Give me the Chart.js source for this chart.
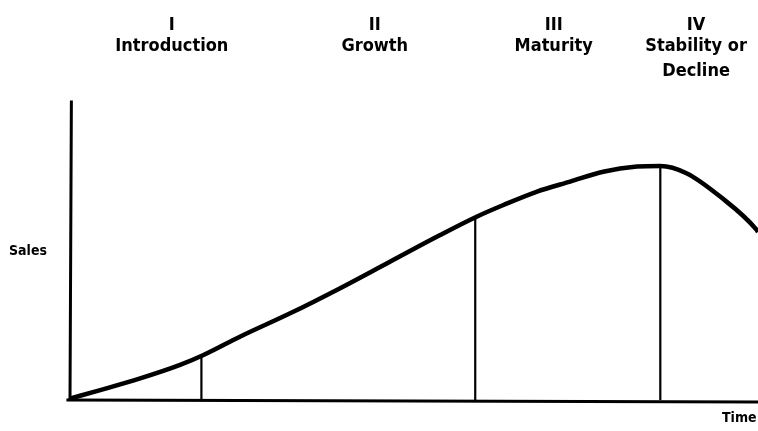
<!DOCTYPE html>
<html><head><meta charset="utf-8">
<script src="https://cdn.jsdelivr.net/npm/chart.js@4/dist/chart.umd.min.js"></script>
<style>html,body{margin:0;padding:0;background:#fff;}#wrap{width:758px;height:431px;}</style>
</head><body><div id="wrap"><canvas id="c" width="758" height="431"></canvas></div>
<script>
// Curve (time, sales)
const timeValues  = [0, 4.4, 10.2, 16.0, 19.4, 24.7, 32.0, 39.2, 46.5, 53.8, 59.1, 63.0, 67.8, 72.7, 77.5, 82.4, 85.8, 89.6, 94.5, 99.8, 100];
const salesValues = [0.5, 3.3, 7.2, 11.7, 15.0, 21.1, 28.9, 37.2, 46.1, 55.0, 61.1, 65.0, 69.4, 72.8, 76.1, 77.8, 78.0, 75.6, 67.8, 56.7, 56.0];
// Stage boundaries (time) and curve height there
const boundaryTimes  = [19.1, 58.9, 85.8];
const boundarySales  = [15.0, 61.0, 78.0];
// Stage labels
const stageNumerals = ["I", "II", "III", "IV"];
const stageNames    = [["Introduction"], ["Growth"], ["Maturity"], ["Stability or", "Decline"]];
const stageCenters  = [14.8, 44.3, 70.3, 91.0];
const yAxisTitle = "Sales";
const xAxisTitle = "Time";

const curve = timeValues.map((t, i) => ({x: t, y: salesValues[i]}));
const datasets = [{
  data: curve, borderColor: '#000', borderWidth: 4.5, pointRadius: 0,
  cubicInterpolationMode: 'monotone', fill: false
}];
boundaryTimes.forEach((t, i) => {
  datasets.push({data: [{x: t, y: 0}, {x: t, y: boundarySales[i]}], borderColor: '#000',
    borderWidth: 2.2, pointRadius: 0, tension: 0, fill: false});
});

const decor = {
  id: 'decor',
  afterDatasetsDraw(chart) {
    const ctx = chart.ctx, xs = chart.scales.x, ys = chart.scales.y;
    ctx.save();
    ctx.strokeStyle = '#000'; ctx.lineCap = 'square';
    // axes
    ctx.lineWidth = 3;
    ctx.beginPath();
    ctx.moveTo(xs.getPixelForValue(0), ys.getPixelForValue(0));
    ctx.lineTo(xs.getPixelForValue(0.2), ys.getPixelForValue(99.3));
    ctx.moveTo(xs.getPixelForValue(-0.3), ys.getPixelForValue(0));
    ctx.lineTo(xs.getPixelForValue(100), ys.getPixelForValue(-0.7));
    ctx.stroke();
    // stage labels
    ctx.fillStyle = '#000';
    ctx.textAlign = 'center'; ctx.textBaseline = 'middle';
    ctx.font = 'bold 18px "DejaVu Sans Condensed", "DejaVu Sans", sans-serif';
    stageNumerals.forEach((n, i) => {
      const px = xs.getPixelForValue(stageCenters[i]);
      ctx.fillText(n, px, 25);
      stageNames[i].forEach((line, j) => ctx.fillText(line, px, 46 + j * 25));
    });
    ctx.font = 'bold 14px "DejaVu Sans Condensed", "DejaVu Sans", sans-serif';
    ctx.textAlign = 'left';
    ctx.fillText(yAxisTitle, 9, 251);
    ctx.fillText(xAxisTitle, 722, 418);
    ctx.restore();
  }
};

new Chart(document.getElementById('c'), {
  type: 'line',
  data: {datasets},
  options: {
    responsive: false, animation: false,
    layout: {padding: {left: 70, top: 100, right: 0, bottom: 31}},
    plugins: {legend: {display: false}, tooltip: {enabled: false}},
    scales: {
      x: {type: 'linear', min: 0, max: 100, display: false},
      y: {type: 'linear', min: 0, max: 100, display: false}
    }
  },
  plugins: [decor]
});
</script></body></html>
